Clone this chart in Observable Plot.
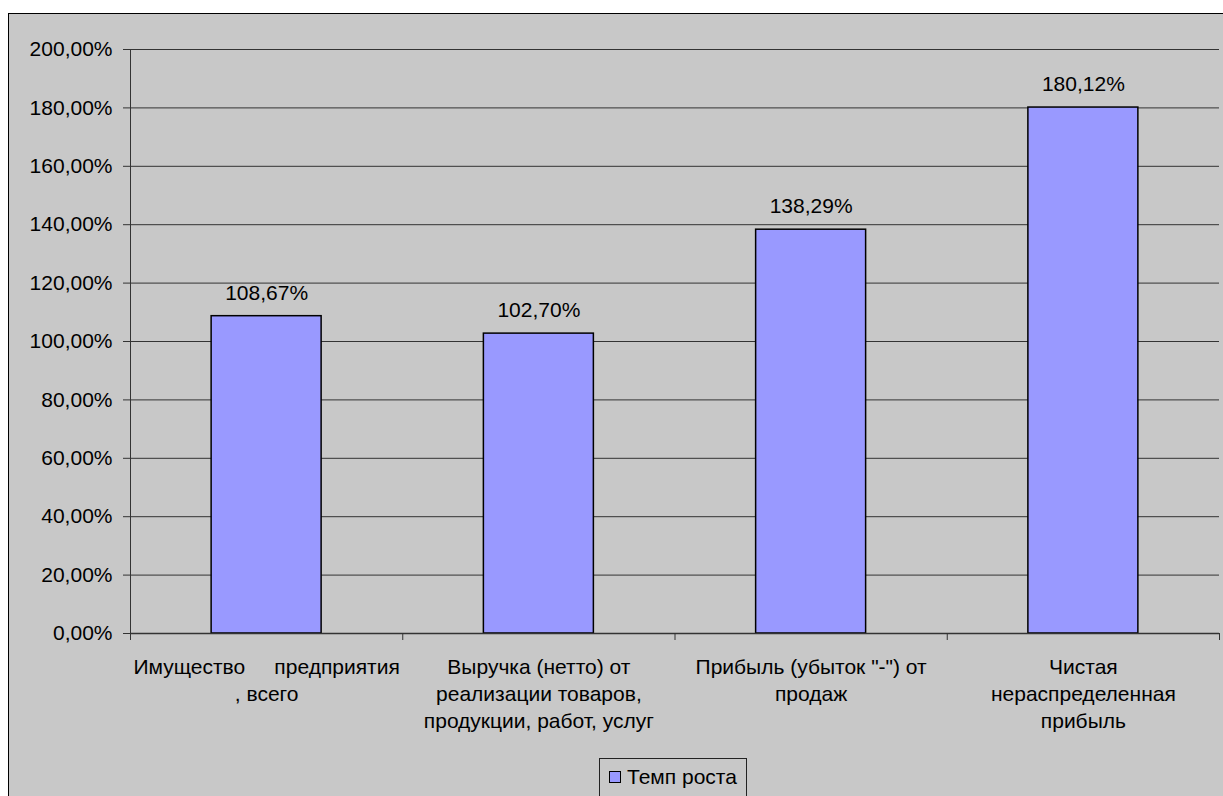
<!DOCTYPE html>
<html>
<head>
<meta charset="utf-8">
<script src="https://cdn.jsdelivr.net/npm/d3@7"></script>
<script src="https://cdn.jsdelivr.net/npm/@observablehq/plot@0.6"></script>
<style>
  html, body { margin: 0; padding: 0; background: #fff; overflow: hidden; }
  #wrap { position: relative; width: 1223px; height: 796px; overflow: hidden; font-family: "Liberation Sans", Arial, sans-serif; }
  #bg { position: absolute; left: 8px; top: 13px; width: 1400px; height: 1000px; border: 1px solid #000; background: #C8C8C8; }
  #chart { position: absolute; left: 0; top: 0; }
  #chart svg { background: transparent !important; }
  #chart svg text { white-space: pre; }
  #legend { position: absolute; left: 599px; top: 758px; width: 146px; height: 60px; border: 1px solid #222; background: #C8C8C8; }
  #legend .sw { position: absolute; left: 9px; top: 12px; width: 10px; height: 10px; border: 1px solid #000; background: #9999FF; }
  #legend .lb { position: absolute; left: 27px; top: 6px; font-size: 21px; color: #000; line-height: 24px; }
</style>
</head>
<body>
<div id="wrap">
  <div id="bg"></div>
  <div id="chart"></div>
  <div id="legend"><div class="sw"></div><div class="lb"></div></div>
</div>
<script>
const categories = [
  "Имущество     предприятия\n, всего",
  "Выручка (нетто) от\nреализации товаров,\nпродукции, работ, услуг",
  "Прибыль (убыток \"-\") от\nпродаж",
  "Чистая\nнераспределенная\nприбыль"
];
const values = [108.67, 102.70, 138.29, 180.12];
const yTicks = [0, 20, 40, 60, 80, 100, 120, 140, 160, 180, 200];
const seriesName = "Темп роста";

const data = categories.map((c, i) => ({cat: c, i, v: values[i]}));
const fmt = v => v.toFixed(2).replace(".", ",") + "%";
const font = "Liberation Sans, Arial, sans-serif";

const chart = Plot.plot({
  width: 1223,
  height: 796,
  marginLeft: 130,
  marginRight: 4,
  marginTop: 49,
  marginBottom: 163,
  style: {fontFamily: font, fontSize: "21px", color: "#000", background: "transparent"},
  x: {type: "linear", domain: [0, categories.length], axis: null},
  y: {domain: [0, 200], axis: null},
  marks: [
    Plot.gridY(yTicks, {stroke: "#333", strokeOpacity: 1, strokeWidth: 1}),
    Plot.axisY(yTicks, {label: null, tickSize: 7, tickPadding: 11, tickFormat: fmt, fontSize: 21, stroke: "#333", strokeWidth: 1, fill: "#000"}),
    Plot.rectY(data, {x1: d => d.i + 0.298, x2: d => d.i + 0.702, y1: 0, y2: "v", fill: "#9999FF", stroke: "#000", strokeWidth: 1.5}),
    Plot.ruleY([0], {stroke: "#333", strokeWidth: 1.5}),
    Plot.frame({anchor: "left", stroke: "#333", strokeWidth: 1}),
    Plot.ruleX(d3.range(categories.length + 1), {x: d => d, y1: 0, y2: 0, insetBottom: -7, stroke: "#333", strokeWidth: 1}),
    Plot.text(data, {x: d => d.i + 0.5, y: "v", text: d => fmt(d.v), dy: -23, fontSize: 21, fill: "#000"}),
    Plot.text(data, {x: d => d.i + 0.5, y: 0, text: "cat", lineAnchor: "top", dy: 21, lineHeight: 1.29, fontSize: 21, fill: "#000"})
  ]
});
document.getElementById("chart").appendChild(chart);
document.querySelector("#legend .lb").textContent = seriesName;
</script>
</body>
</html>
